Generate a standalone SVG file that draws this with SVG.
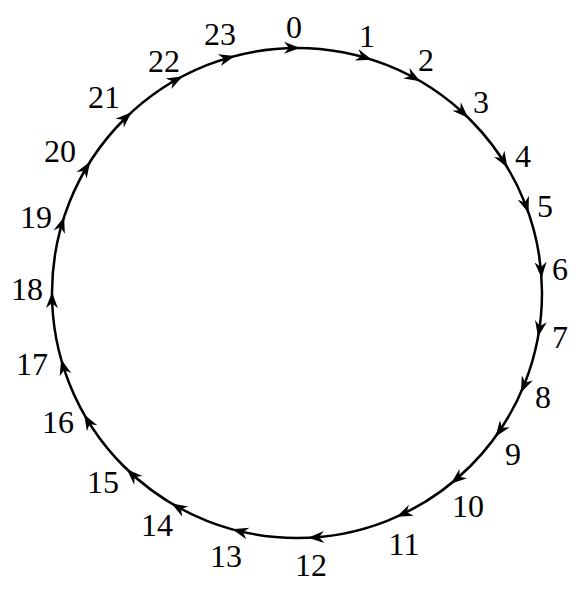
<svg xmlns="http://www.w3.org/2000/svg" xmlns:xlink="http://www.w3.org/1999/xlink" width="587" height="595" viewBox="0 0 587 595">
<style>
.lbl{font-family:'Liberation Serif','Times New Roman',Times,serif;font-size:32px;fill:#000;text-anchor:middle}
.ring{fill:none;stroke:#000;stroke-width:2.5}
</style>
<defs>
<path id="ah" d="M0,0 L-16,-6 L-11,0 L-16,6 Z" fill="#000"/>
</defs>
<rect width="587" height="595" fill="#fff"/>
<g id="connectors">
<circle class="ring" cx="297" cy="293" r="245"/>
</g>
<g font-family="Liberation Serif, serif">
<g id="n0"><use xlink:href="#ah" transform="rotate(-89.3,297,293) translate(542,293) rotate(90)"/><text class="lbl" x="294" y="38">0</text></g>
<g id="n1"><use xlink:href="#ah" transform="rotate(-72.2,297,293) translate(542,293) rotate(90)"/><text class="lbl" x="367" y="47">1</text></g>
<g id="n2"><use xlink:href="#ah" transform="rotate(-59.8,297,293) translate(542,293) rotate(90)"/><text class="lbl" x="426" y="71">2</text></g>
<g id="n3"><use xlink:href="#ah" transform="rotate(-45.7,297,293) translate(542,293) rotate(90)"/><text class="lbl" x="481" y="113">3</text></g>
<g id="n4"><use xlink:href="#ah" transform="rotate(-30.8,297,293) translate(542,293) rotate(90)"/><text class="lbl" x="523" y="167">4</text></g>
<g id="n5"><use xlink:href="#ah" transform="rotate(-19.1,297,293) translate(542,293) rotate(90)"/><text class="lbl" x="545" y="217">5</text></g>
<g id="n6"><use xlink:href="#ah" transform="rotate(-3.5,297,293) translate(542,293) rotate(90)"/><text class="lbl" x="560" y="280">6</text></g>
<g id="n7"><use xlink:href="#ah" transform="rotate(10.3,297,293) translate(542,293) rotate(90)"/><text class="lbl" x="560" y="348">7</text></g>
<g id="n8"><use xlink:href="#ah" transform="rotate(24.0,297,293) translate(542,293) rotate(90)"/><text class="lbl" x="543" y="408">8</text></g>
<g id="n9"><use xlink:href="#ah" transform="rotate(35.9,297,293) translate(542,293) rotate(90)"/><text class="lbl" x="513" y="465">9</text></g>
<g id="n10"><use xlink:href="#ah" transform="rotate(51.1,297,293) translate(542,293) rotate(90)"/><text class="lbl" x="468" y="517">10</text></g>
<g id="n11"><use xlink:href="#ah" transform="rotate(66.0,297,293) translate(542,293) rotate(90)"/><text class="lbl" x="404" y="555">11</text></g>
<g id="n12"><use xlink:href="#ah" transform="rotate(87.4,297,293) translate(542,293) rotate(90)"/><text class="lbl" x="311" y="576">12</text></g>
<g id="n13"><use xlink:href="#ah" transform="rotate(105.3,297,293) translate(542,293) rotate(90)"/><text class="lbl" x="226" y="567">13</text></g>
<g id="n14"><use xlink:href="#ah" transform="rotate(120.8,297,293) translate(542,293) rotate(90)"/><text class="lbl" x="157" y="536">14</text></g>
<g id="n15"><use xlink:href="#ah" transform="rotate(134.0,297,293) translate(542,293) rotate(90)"/><text class="lbl" x="103" y="493">15</text></g>
<g id="n16"><use xlink:href="#ah" transform="rotate(150.3,297,293) translate(542,293) rotate(90)"/><text class="lbl" x="58" y="433">16</text></g>
<g id="n17"><use xlink:href="#ah" transform="rotate(164.3,297,293) translate(542,293) rotate(90)"/><text class="lbl" x="32" y="375">17</text></g>
<g id="n18"><use xlink:href="#ah" transform="rotate(180.2,297,293) translate(542,293) rotate(90)"/><text class="lbl" x="27" y="300">18</text></g>
<g id="n19"><use xlink:href="#ah" transform="rotate(198.1,297,293) translate(542,293) rotate(90)"/><text class="lbl" x="36" y="228">19</text></g>
<g id="n20"><use xlink:href="#ah" transform="rotate(212.4,297,293) translate(542,293) rotate(90)"/><text class="lbl" x="60" y="162">20</text></g>
<g id="n21"><use xlink:href="#ah" transform="rotate(227.5,297,293) translate(542,293) rotate(90)"/><text class="lbl" x="104" y="108">21</text></g>
<g id="n22"><use xlink:href="#ah" transform="rotate(242.2,297,293) translate(542,293) rotate(90)"/><text class="lbl" x="164" y="72">22</text></g>
<g id="n23"><use xlink:href="#ah" transform="rotate(255.3,297,293) translate(542,293) rotate(90)"/><text class="lbl" x="220" y="45">23</text></g>
</g>
</svg>
